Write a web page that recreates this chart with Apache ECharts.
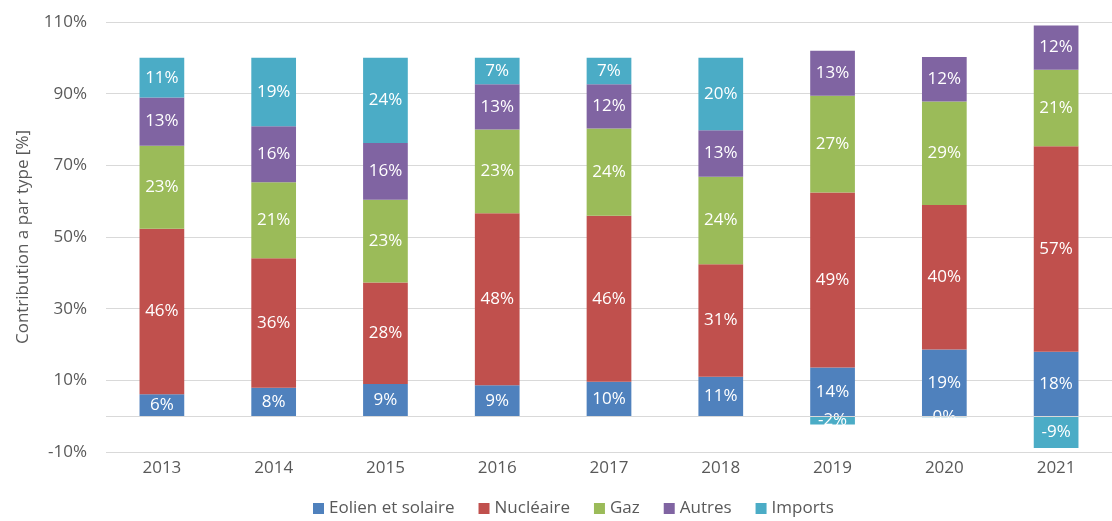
<!DOCTYPE html>
<html>
<head>
<meta charset="utf-8">
<script src="https://cdn.jsdelivr.net/npm/echarts@6/dist/echarts.min.js"></script>
<style>
html,body{margin:0;padding:0;background:#fff;}
#chart{width:1112px;height:521px;}
</style>
</head>
<body>
<div id="chart"></div>
<script>
const years = ['2013','2014','2015','2016','2017','2018','2019','2020','2021'];
const eolienSolaire = [6.1, 7.9, 9.0, 8.6, 9.6, 11.0, 13.6, 18.6, 18.0];
const nucleaire     = [46.2, 36.2, 28.3, 48.0, 46.3, 31.4, 48.8, 40.3, 57.3];
const gaz           = [23.2, 21.2, 23.1, 23.4, 24.4, 24.4, 27.0, 28.9, 21.4];
const autres        = [13.4, 15.6, 15.8, 12.6, 12.3, 13.0, 12.6, 12.4, 12.3];
const imports       = [11.1, 19.1, 23.8, 7.4, 7.4, 20.2, -2.3, -0.3, -8.9];
const seriesNames = ['Eolien et solaire', 'Nucléaire', 'Gaz', 'Autres', 'Imports'];
const seriesColors = ['#4f81bd', '#c0504d', '#9bbb59', '#8064a2', '#4bacc6'];
const yTickLabels = [-10, 10, 30, 50, 70, 90, 110];

const FONT = '"Open Sans", sans-serif';
const FS = 17;
const TXT = '#595959';
const GRID = '#d9d9d9';

const allData = [eolienSolaire, nucleaire, gaz, autres, imports];

const series = allData.map((d, i) => {
  const s = {
    name: seriesNames[i],
    type: 'bar',
    stack: 'total',
    data: d,
    barWidth: '40%',
    itemStyle: { color: seriesColors[i] },
    label: {
      show: true,
      position: 'inside',
      color: '#fff',
      fontFamily: FONT,
      fontSize: FS,
      formatter: p => Math.round(p.value) + '%'
    }
  };
  if (i === 0) {
    s.markLine = {
      silent: true,
      symbol: 'none',
      label: { show: false },
      lineStyle: { color: GRID, width: 1, type: 'solid' },
      data: [{ yAxis: 0 }]
    };
  }
  return s;
});

const chart = echarts.init(document.getElementById('chart'), null, { renderer: 'canvas' });
chart.setOption({
  animation: false,
  backgroundColor: '#fff',
  textStyle: { fontFamily: FONT },
  grid: { left: 106, right: -16, top: 22, bottom: 69, containLabel: false },
  legend: {
    bottom: -1,
    left: 308,
    icon: 'rect',
    itemWidth: 11,
    itemHeight: 11,
    itemGap: 24,
    textStyle: { color: TXT, fontSize: FS, fontFamily: FONT },
    data: seriesNames
  },
  xAxis: {
    type: 'category',
    data: years,
    axisLine: { show: false, onZero: false },
    axisTick: { show: false },
    axisLabel: { color: TXT, fontSize: FS, fontFamily: FONT, margin: 8 },
    splitLine: { show: false }
  },
  yAxis: {
    type: 'value',
    min: -10,
    max: 110,
    interval: 10,
    name: 'Contribution a par type [%]',
    nameLocation: 'middle',
    nameRotate: 90,
    nameGap: 74,
    nameTextStyle: { color: TXT, fontSize: FS, fontFamily: FONT },
    axisLine: { show: false },
    axisTick: { show: false },
    axisLabel: {
      color: TXT, fontSize: FS, fontFamily: FONT, margin: 19,
      formatter: v => yTickLabels.indexOf(v) >= 0 ? v + '%' : ''
    },
    splitLine: { show: true, lineStyle: { color: [GRID, 'rgba(0,0,0,0)'], width: 1 } }
  },
  series: series
});
</script>
</body>
</html>
